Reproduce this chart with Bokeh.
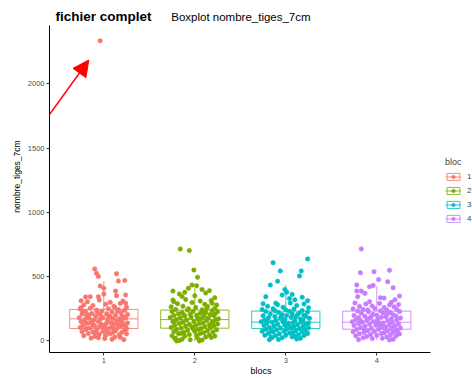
from bokeh.plotting import figure
from bokeh.models import (Range1d, FixedTicker, Label, Arrow, NormalHead, Legend,
                          LegendItem, ColumnDataSource)
from bokeh.embed import file_html
from bokeh.resources import INLINE

# ---------------- data ----------------
blocs = ["1", "2", "3", "4"]
colors = ["#F8766D", "#7CAE00", "#00BFC4", "#C77CFF"]

# box statistics
q1 = [96, 99, 96, 91]
med = [172, 166, 146, 146]
q3 = [245, 240, 232, 232]
lower = [10, 0, 13, 8]
upper = [466, 415, 435, 425]

# jittered points: (horizontal jitter, nombre_tiges_7cm)
g1 = [(-0.04, 2334),
      (-0.10, 560), (-0.08, 526), (-0.06, 502), (0.14, 523), (0.16, 466), (0.23, 471),
      (-0.04, 427), (0.00, 409), (0.13, 388), (0.14, 352), (0.24, 357), (0.00, 365),
      (-0.20, 341), (-0.15, 344), (-0.06, 344), (0.24, 294), (0.18, 292),
      (-0.25, 312), (-0.18, 305), (-0.05, 318), (0.07, 300), (0.21, 310), (-0.22, 280),
      (-0.12, 275), (0.02, 286), (0.11, 270), (0.25, 262), (-0.26, 248), (-0.15, 255),
      (-0.08, 240), (0.05, 250), (0.16, 244), (0.23, 238), (-0.20, 228), (-0.02, 232),
      (0.09, 225), (0.19, 220), (-0.24, 210), (-0.13, 214), (-0.04, 205), (0.03, 212),
      (0.13, 200), (0.26, 206), (-0.19, 195), (-0.09, 190), (0.07, 188), (0.20, 192),
      (-0.27, 180), (-0.16, 176), (-0.01, 182), (0.10, 174), (0.17, 170), (0.24, 178),
      (-0.21, 165), (-0.11, 160), (0.04, 162), (0.14, 158), (-0.25, 150), (-0.14, 146),
      (-0.06, 152), (0.08, 144), (0.18, 148), (0.26, 140), (-0.18, 135), (-0.03, 130),
      (0.12, 134), (0.22, 128), (-0.23, 120), (-0.10, 118), (0.01, 122), (0.09, 112),
      (0.19, 115), (-0.26, 105), (-0.15, 100), (-0.05, 108), (0.06, 98), (0.15, 102),
      (0.25, 95), (-0.20, 88), (-0.08, 85), (0.03, 90), (0.13, 80), (0.23, 84),
      (-0.24, 72), (-0.12, 70), (-0.01, 75), (0.10, 66), (0.20, 68), (-0.17, 58),
      (-0.05, 52), (0.07, 55), (0.17, 48), (0.25, 55), (-0.22, 40), (-0.10, 35),
      (0.02, 42), (0.12, 30), (-0.14, 22), (0.01, 18), (0.09, 13), (0.22, 10),
      (-0.06, 25), (0.18, 28), (-0.23, 232), (-0.07, 222), (0.15, 230), (0.05, 196),
      (-0.17, 204), (0.22, 186), (-0.04, 168), (0.20, 155), (-0.20, 142), (0.03, 138),
      (-0.12, 125), (0.16, 124), (-0.01, 110), (0.24, 115), (-0.19, 97), (0.11, 92),
      (-0.09, 62), (0.04, 70), (-0.25, 260), (0.12, 262)]

g2 = [(-0.16, 716), (-0.06, 703), (-0.01, 552), (0.03, 495), (-0.03, 435), (0.02, 430),
      (-0.24, 388), (0.16, 391), (-0.17, 365), (-0.11, 378), (0.00, 352), (0.22, 336),
      (-0.23, 305), (0.19, 294), (-0.20, 0), (-0.22, 18), (0.05, 0), (-0.05, 10),
      (-0.07, 410), (0.08, 400), (0.12, 372), (-0.14, 345),
      (-0.24, 318), (-0.10, 322), (0.06, 310), (0.18, 315), (-0.19, 290), (-0.03, 298),
      (0.11, 285), (0.24, 280), (-0.26, 265), (-0.13, 270), (0.01, 260), (0.14, 268),
      (0.22, 255), (-0.21, 245), (-0.07, 250), (0.08, 242), (0.19, 236), (-0.25, 228),
      (-0.14, 222), (-0.02, 230), (0.12, 220), (0.25, 226), (-0.18, 212), (-0.05, 208),
      (0.06, 215), (0.17, 205), (-0.23, 198), (-0.11, 194), (0.02, 200), (0.10, 190),
      (0.21, 196), (-0.27, 182), (-0.16, 178), (-0.04, 185), (0.07, 175), (0.15, 180),
      (0.26, 172), (-0.20, 166), (-0.09, 162), (0.04, 168), (0.13, 158), (0.23, 164),
      (-0.24, 150), (-0.13, 146), (-0.01, 152), (0.09, 140), (0.19, 148), (-0.17, 135),
      (-0.06, 130), (0.05, 136), (0.16, 126), (0.25, 132), (-0.22, 120), (-0.10, 116),
      (0.01, 122), (0.11, 112), (0.21, 118), (-0.26, 105), (-0.15, 100), (-0.03, 108),
      (0.07, 96), (0.17, 102), (-0.20, 88), (-0.08, 84), (0.04, 90), (0.14, 80),
      (0.24, 86), (-0.23, 72), (-0.12, 68), (0.00, 75), (0.10, 64), (0.20, 70),
      (-0.18, 56), (-0.06, 50), (0.06, 58), (0.16, 46), (-0.25, 40), (-0.11, 36),
      (0.02, 44), (0.12, 30), (0.22, 38), (-0.21, 20), (-0.14, 14), (0.03, 22),
      (0.08, 8), (-0.17, 4), (0.18, 26), (-0.08, 240), (0.03, 178), (-0.22, 156),
      (0.20, 142), (-0.12, 202), (0.13, 250), (-0.02, 95), (0.09, 225), (-0.15, 60),
      (0.22, 210)]

g3 = [(0.24, 638), (-0.14, 609), (0.17, 544), (-0.06, 544), (0.15, 505), (-0.17, 435),
      (-0.09, 464), (-0.22, 344), (0.01, 378), (0.07, 362), (-0.04, 357), (0.24, 313),
      (-0.11, 294), (-0.18, 10), (-0.15, 26), (0.10, 320), (0.18, 340), (-0.01, 400),
      (0.04, 330),
      (-0.25, 290), (-0.09, 282), (0.05, 295), (0.20, 288), (-0.20, 270), (-0.03, 262),
      (0.12, 275), (0.25, 258), (-0.26, 245), (-0.14, 250), (0.00, 240), (0.09, 248),
      (0.18, 236), (-0.22, 228), (-0.08, 222), (0.04, 230), (0.15, 218), (0.24, 225),
      (-0.17, 210), (-0.04, 205), (0.07, 212), (0.20, 200), (-0.25, 195), (-0.12, 190),
      (0.01, 198), (0.11, 186), (0.22, 192), (-0.19, 180), (-0.06, 175), (0.06, 182),
      (0.16, 170), (0.26, 176), (-0.23, 165), (-0.11, 160), (-0.01, 166), (0.10, 156),
      (0.19, 162), (-0.27, 150), (-0.15, 146), (-0.03, 152), (0.08, 142), (0.17, 148),
      (0.25, 140), (-0.21, 135), (-0.09, 130), (0.03, 138), (0.13, 126), (0.22, 132),
      (-0.24, 120), (-0.13, 116), (-0.01, 122), (0.09, 112), (0.20, 118), (-0.18, 105),
      (-0.06, 100), (0.05, 108), (0.15, 96), (0.25, 102), (-0.22, 90), (-0.10, 86),
      (0.01, 92), (0.11, 80), (0.21, 88), (-0.26, 75), (-0.14, 70), (-0.02, 76),
      (0.08, 66), (0.18, 72), (-0.19, 60), (-0.07, 55), (0.04, 62), (0.14, 50),
      (0.24, 58), (-0.23, 44), (-0.11, 40), (0.00, 46), (0.10, 36), (0.20, 42),
      (-0.16, 30), (-0.04, 25), (0.07, 32), (0.16, 20), (-0.08, 12), (0.12, 15),
      (-0.05, 188), (0.13, 205), (-0.20, 155), (0.02, 128), (-0.16, 82), (0.19, 110),
      (-0.12, 235), (0.06, 98), (0.23, 65), (-0.02, 142)]

g4 = [(-0.17, 716), (-0.18, 531), (-0.03, 539), (0.14, 549), (0.02, 477), (0.12, 461),
      (-0.22, 435), (-0.08, 422), (-0.04, 432), (0.18, 414), (0.25, 349), (-0.22, 388),
      (-0.17, 388), (0.04, 336), (0.08, 333), (-0.21, 344), (-0.08, 305), (0.20, 320),
      (-0.13, 370), (0.16, 300), (-0.05, 18), (0.18, 13),
      (-0.24, 296), (-0.12, 288), (0.03, 292), (0.14, 280), (0.24, 284), (-0.19, 268),
      (-0.05, 272), (0.08, 260), (0.19, 265), (-0.26, 250), (-0.15, 244), (-0.02, 252),
      (0.11, 240), (0.22, 246), (-0.21, 232), (-0.09, 226), (0.04, 235), (0.15, 222),
      (0.25, 228), (-0.17, 215), (-0.04, 208), (0.07, 218), (0.18, 204), (-0.25, 198),
      (-0.13, 192), (0.00, 200), (0.10, 188), (0.21, 194), (-0.20, 182), (-0.08, 176),
      (0.05, 184), (0.16, 172), (0.26, 178), (-0.23, 166), (-0.11, 160), (0.01, 168),
      (0.12, 156), (0.22, 162), (-0.27, 150), (-0.16, 145), (-0.04, 152), (0.07, 140),
      (0.17, 148), (-0.20, 135), (-0.08, 130), (0.04, 138), (0.14, 126), (0.24, 132),
      (-0.25, 120), (-0.13, 115), (-0.01, 122), (0.10, 110), (0.20, 118), (-0.18, 104),
      (-0.06, 98), (0.06, 106), (0.16, 94), (0.26, 100), (-0.22, 88), (-0.10, 82),
      (0.02, 90), (0.12, 78), (0.22, 85), (-0.26, 72), (-0.14, 66), (-0.03, 74),
      (0.08, 62), (0.18, 68), (-0.19, 56), (-0.07, 50), (0.05, 58), (0.15, 46),
      (0.25, 54), (-0.23, 40), (-0.11, 34), (0.00, 42), (0.11, 30), (0.21, 38),
      (-0.15, 24), (0.06, 20), (-0.20, 10), (0.14, 8), (-0.06, 190), (0.12, 212),
      (-0.18, 158), (0.03, 125), (-0.14, 86), (0.19, 112), (-0.10, 240), (0.09, 96),
      (0.23, 70), (0.00, 145)]

groups = [g1, g2, g3, g4]

y_ticks = [0, 500, 1000, 1500, 2000]
title_main = "fichier complet"
title_sub = "Boxplot nombre_tiges_7cm"
# annotation arrow (data units): from lower-left towards the extreme value
arrow_from = (-0.047, 1320)
arrow_to = (0.835, 2185)

FONT = "Liberation Sans"
BOX_HALF = 0.375

# axis extents (the frame is larger so that titles / legend are not clipped)
Y_MIN = -90
x_axis_span = (0.403, 4.59)
y_axis_span = (Y_MIN, 2453)

# ---------------- figure ----------------
p = figure(width=472, height=378, output_backend="svg", toolbar_location=None,
           x_range=Range1d(0.403, 5.052), y_range=Range1d(Y_MIN, 2648),
           min_border_left=49, min_border_right=0, min_border_top=0,
           min_border_bottom=25)
p.outline_line_color = None
p.xgrid.visible = False
p.ygrid.visible = False
p.background_fill_color = "white"
p.border_fill_color = "white"

xpos = [i + 1 for i in range(len(blocs))]
items = []
for i, g in enumerate(groups):
    x = xpos[i]
    src = ColumnDataSource(dict(
        x=[x], left=[x - BOX_HALF], right=[x + BOX_HALF],
        q1=[q1[i]], q3=[q3[i]], med=[med[i]], lower=[lower[i]], upper=[upper[i]]))
    c = colors[i]
    p.segment(x0="x", y0="q3", x1="x", y1="upper", source=src, line_color=c,
              line_width=1, line_alpha=0.85)
    p.segment(x0="x", y0="q1", x1="x", y1="lower", source=src, line_color=c,
              line_width=1, line_alpha=0.85)
    r_box = p.quad(left="left", right="right", bottom="q1", top="q3", source=src,
                   fill_color="white", line_color=c, line_width=1, line_alpha=0.85)
    r_med = p.segment(x0="left", y0="med", x1="right", y1="med", source=src,
                      line_color=c, line_width=1, line_alpha=0.85)
    xs = [x + d for d, v in g]
    ys = [v for d, v in g]
    r_pts = p.scatter(x=xs, y=ys, size=4.5, marker="circle", fill_color=c,
                      line_color=c, line_width=0.5)
    items.append(LegendItem(label=blocs[i], renderers=[r_box, r_med, r_pts], index=0))

legend = Legend(items=items, location=(396, 129), title="bloc",
                border_line_color=None, background_fill_alpha=0,
                padding=0, margin=0, spacing=5, glyph_width=16, glyph_height=9,
                label_height=9, label_width=6, label_standoff=6,
                label_text_font=FONT, label_text_font_size="8px",
                title_text_font=FONT, title_text_font_size="9px",
                title_text_font_style="normal", title_standoff=5)
p.add_layout(legend)

# axes
p.xaxis.ticker = FixedTicker(ticks=xpos)
p.xaxis.major_label_overrides = {x: b for x, b in zip(xpos, blocs)}
p.xaxis.bounds = x_axis_span
p.yaxis.ticker = FixedTicker(ticks=y_ticks)
p.yaxis.bounds = y_axis_span
for ax in (p.xaxis, p.yaxis):
    ax.axis_line_color = "black"
    ax.axis_line_width = 1
    ax.major_tick_line_color = "#333333"
    ax.major_tick_out = 3
    ax.major_tick_in = 0
    ax.minor_tick_line_color = None
    ax.major_label_text_font = FONT
    ax.major_label_text_font_size = "7.5px"
    ax.major_label_text_color = "#4D4D4D"
    ax.major_label_standoff = 2
    ax.axis_label_text_font = FONT
    ax.axis_label_text_font_style = "normal"
    ax.axis_label_text_color = "black"
p.xaxis.axis_label = "blocs"
p.xaxis.axis_label_text_font_size = "9px"
p.xaxis.axis_label_standoff = 0
p.yaxis.axis_label = "nombre_tiges_7cm"
p.yaxis.axis_label_text_font_size = "8.5px"
p.yaxis.axis_label_standoff = 3

# titles
p.add_layout(Label(x=0.469, y=2522, text=title_main, text_font=FONT,
                   text_font_size="13.5px", text_font_style="bold",
                   text_color="black", text_baseline="alphabetic"))
p.add_layout(Label(x=1.741, y=2522, text=title_sub, text_font=FONT,
                   text_font_size="11.5px", text_color="black",
                   text_baseline="alphabetic"))

# arrow
p.add_layout(Arrow(end=NormalHead(size=16, fill_color="red", line_color="red"),
                   x_start=arrow_from[0], y_start=arrow_from[1],
                   x_end=arrow_to[0], y_end=arrow_to[1],
                   line_color="red", line_width=1.5))

open("out.html", "w").write(file_html(p, INLINE))
